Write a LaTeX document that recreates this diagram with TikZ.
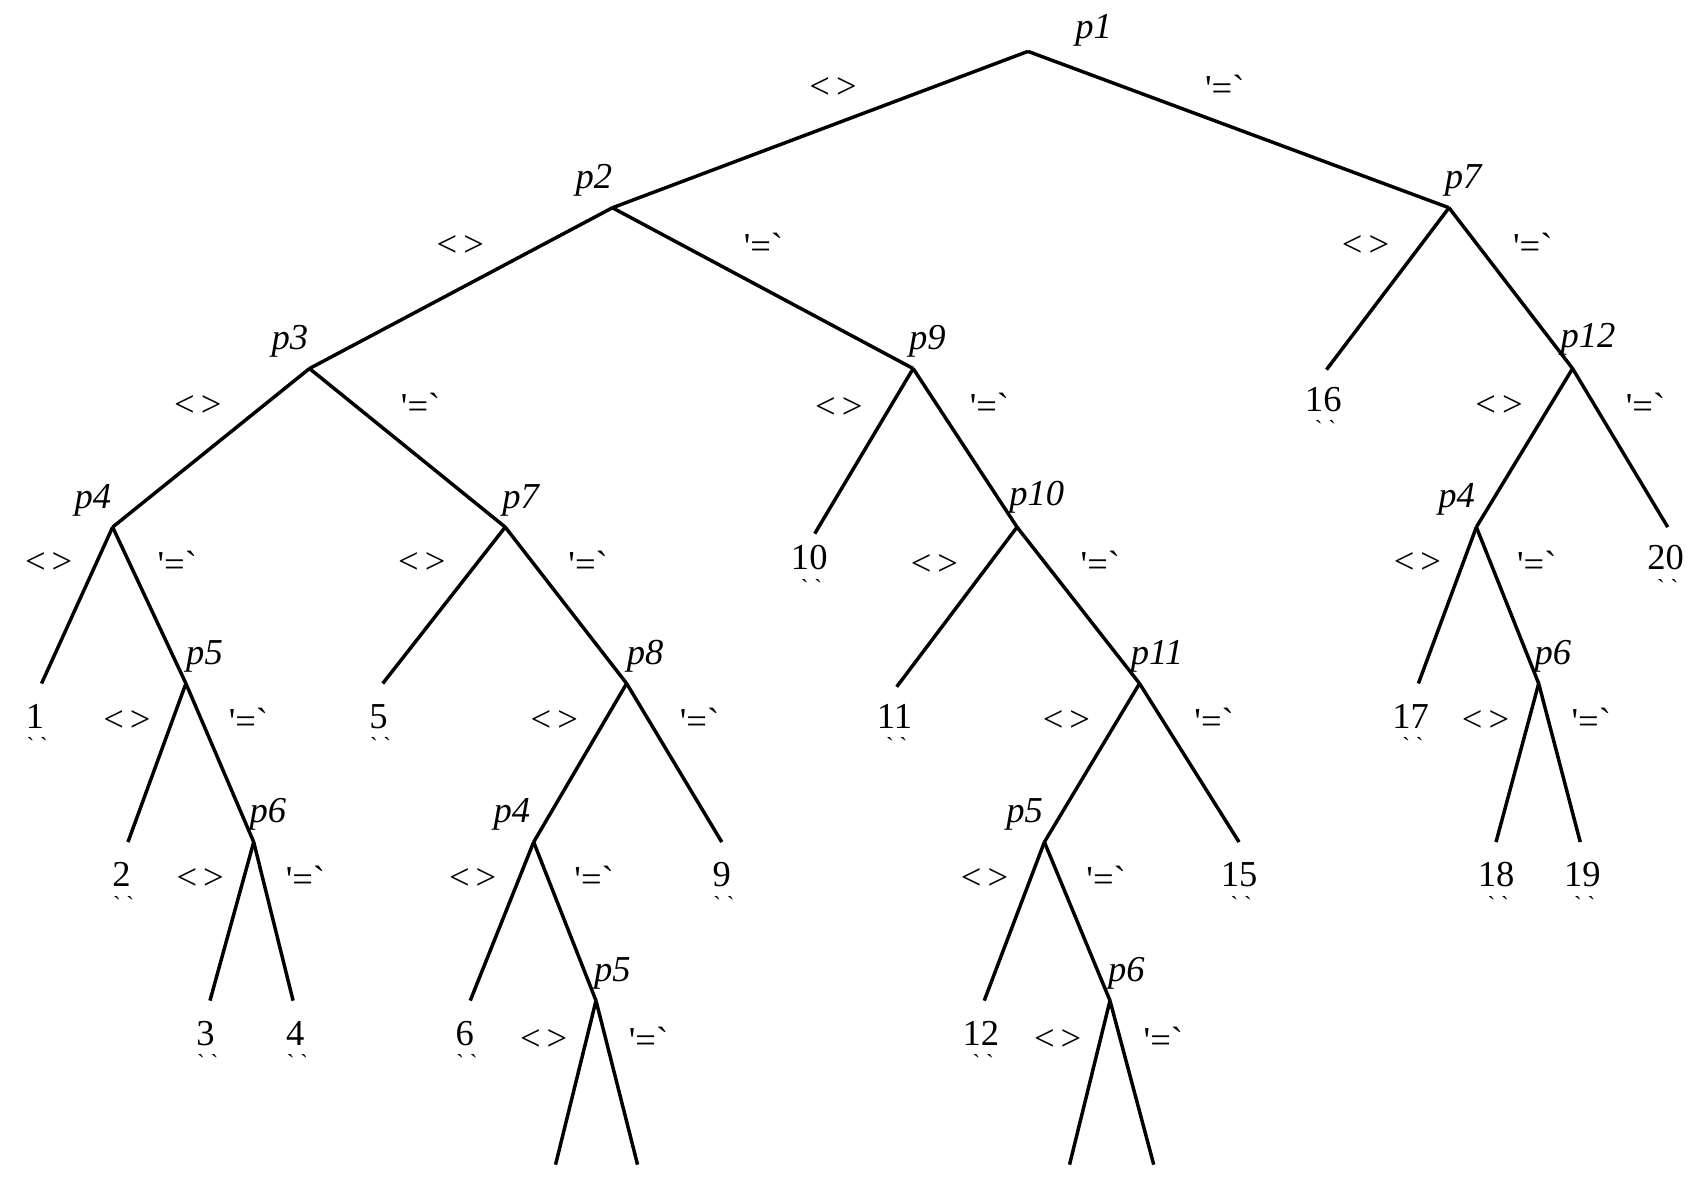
\documentclass[tikz,border=0pt]{standalone}
\usepackage{fontspec}
\setmainfont{Liberation Serif}
\begin{document}
\begin{tikzpicture}[x=0.01cm,y=-0.01cm,
  edge/.style={line width=0.9pt},
  pl/.style={font=\fontsize{9.5}{11}\selectfont\itshape,inner sep=0pt},
  num/.style={font=\fontsize{9.5}{11}\selectfont,inner sep=0pt},
  ne/.style={font=\fontsize{9.5}{11}\selectfont,inner sep=1pt},
  tk/.style={font=\fontsize{6}{7}\selectfont,inner sep=0pt}]
\useasboundingbox (0,0) rectangle (1560,1080);
% vertices
\coordinate (p1) at (940,47);
\coordinate (p2) at (560,190);
\coordinate (p7a) at (1325,190);
\coordinate (p3) at (283,337);
\coordinate (p9) at (835,337);
\coordinate (p4a) at (103,482);
\coordinate (p7b) at (462,482);
\coordinate (l10) at (745,488);
\coordinate (p10) at (930,482);
\coordinate (l16) at (1213,338);
\coordinate (p12) at (1438,337);
\coordinate (l1) at (38,625);
\coordinate (p5a) at (170,625);
\coordinate (l5) at (350,625);
\coordinate (p8) at (573,625);
\coordinate (l11) at (820,628);
\coordinate (p11) at (1042,625);
\coordinate (p4c) at (1350,482);
\coordinate (l20) at (1525,482);
\coordinate (l2) at (117,770);
\coordinate (p6a) at (232,770);
\coordinate (p4b) at (488,770);
\coordinate (l9) at (660,770);
\coordinate (p5c) at (955,770);
\coordinate (l15) at (1133,770);
\coordinate (l17) at (1297,625);
\coordinate (p6c) at (1407,625);
\coordinate (l3) at (192,915);
\coordinate (l4) at (268,915);
\coordinate (l6) at (430,915);
\coordinate (p5b) at (545,915);
\coordinate (l12) at (900,915);
\coordinate (p6b) at (1015,915);
\coordinate (l18) at (1368,770);
\coordinate (l19) at (1445,770);
\coordinate (a1) at (508,1065);
\coordinate (a2) at (583,1065);
\coordinate (b1) at (978,1065);
\coordinate (b2) at (1055,1065);
% edges with labels
\def\NE{\textless\,\textgreater}
\def\EQ{\textquotesingle=\textasciigrave}
\foreach \a/\l/\r in {p1/p2/p7a,p2/p3/p9,p3/p4a/p7b,p9/l10/p10,p7a/l16/p12,
  p4a/l1/p5a,p7b/l5/p8,p10/l11/p11,p12/p4c/l20,p5a/l2/p6a,p8/p4b/l9,p11/p5c/l15,
  p4c/l17/p6c,p6a/l3/l4,p4b/l6/p5b,p5c/l12/p6b,p6c/l18/l19,p5b/a1/a2,p6b/b1/b2}{
  \draw[edge] (\l) -- node[pos=0.62,anchor=east,ne,xshift=-2pt,yshift=6pt]{\NE} (\a);
  \draw[edge] (\a) -- node[pos=0.38,anchor=west,ne,xshift=3pt,yshift=6pt]{\EQ} (\r);
}
% vertex labels
\foreach \n/\t/\x/\y in {q1/p1/1000/28,q2/p2/543/165,q7a/p7/1338/165,q3/p3/265/312,
  q9/p9/848/312,q4a/p4/85/458,q7b/p7/476/458,q10/p10/948/455,q12/p12/1452/310,
  q5a/p5/187/600,q8/p8/590/600,q11/p11/1058/600,q4c/p4/1332/457,q6a/p6/245/745,
  q4b/p4/468/745,q5c/p5/937/745,q6c/p6/1420/600,q5b/p5/560/890,q6b/p6/1030/890}
  \node[pl] (\n) at (\x,\y) {\t};
% leaf labels
\foreach \n/\t/\x/\y in {m1/1/32/655,m2/2/111/800,m3/3/188/945,m4/4/270/945,m5/5/346/655,
  m6/6/425/945,m9/9/660/800,m10/10/740/510,m11/11/818/655,m12/12/897/945,m15/15/1133/800,
  m16/16/1210/365,m17/17/1290/655,m18/18/1368/800,m19/19/1447/800,m20/20/1523/510}{
  \node[num] (\n) at (\x,\y) {\t};
  \node[tk] (\n t) at (\x+2,\y+27) {\textasciigrave\ \textasciigrave};
}
\end{tikzpicture}
\end{document}
